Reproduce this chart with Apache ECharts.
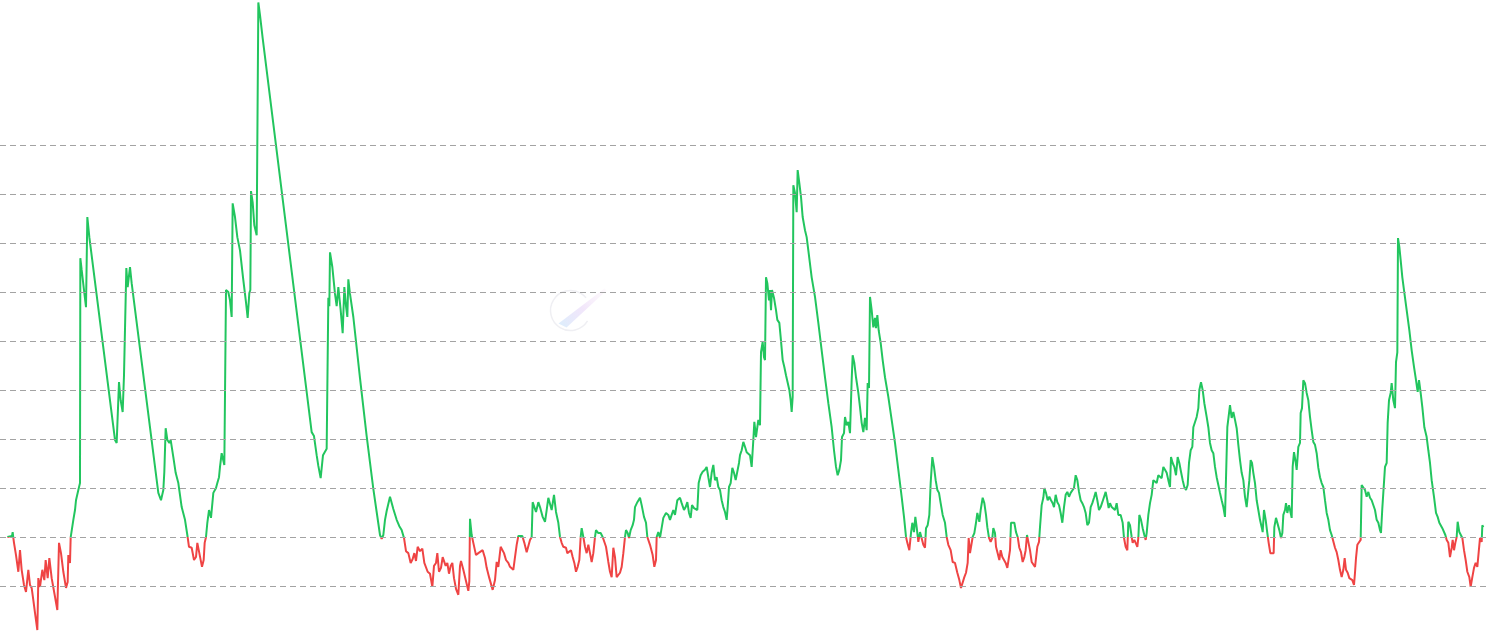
<!DOCTYPE html>
<html>
<head>
<meta charset="utf-8">
<script src="https://cdn.jsdelivr.net/npm/echarts@6/dist/echarts.min.js"></script>
<style>
html,body{margin:0;padding:0;background:#fff;}
#chart{width:1490px;height:633px;}
</style>
</head>
<body>
<div id="chart"></div>
<script>
// [day index, ratio]
const period1 = [[22,1.000],[36,1.002],[38,1.010],[40,0.998],[42,0.988],[48,0.963],[55,0.929],[60,0.973],[65,0.933],[72,0.902],[78,0.888],[85,0.933],[90,0.902],[95,0.896],[100,0.871],[105,0.845],[112,0.810],[115,0.916],[120,0.898],[127,0.933],[133,0.912],[137,0.953],[143,0.916],[148,0.957],[155,0.916],[165,0.878],[172,0.851],[177,0.988],[183,0.967],[190,0.929],[198,0.896],[203,0.908],[205,0.963],[210,0.947],[212,0.999],[218,1.002],[220,1.035],[225,1.055],[228,1.075],[235,1.096],[240,1.110],[241,1.569],[245,1.545],[252,1.504],[258,1.469],[262,1.653],[268,1.612],[345,1.198],[350,1.192],[357,1.316],[362,1.279],[368,1.255],[372,1.330],[377,1.330],[379,1.549],[383,1.510],[390,1.551],[395,1.518],[475,1.090],[483,1.075],[490,1.096],[493,1.133],[497,1.222],[502,1.198],[508,1.192],[512,1.198],[520,1.163],[527,1.131],[535,1.110],[545,1.061],[555,1.035],[562,1.004],[567,0.980],[575,0.978],[582,0.953],[588,0.959],[592,0.988],[598,0.967],[606,0.939],[611,0.953],[614,0.988],[618,1.000],[622,1.029],[627,1.055],[633,1.039],[640,1.090],[648,1.100],[652,1.110],[657,1.122],[660,1.143],[665,1.171],[673,1.147],[678,1.504],[685,1.500],[690,1.483],[695,1.449],[698,1.681],[705,1.653],[712,1.612],[720,1.585],[729,1.530],[738,1.479],[743,1.447],[748,1.498],[751,1.504],[753,1.706],[758,1.683],[763,1.636],[770,1.616],[773,1.612]];

const period2 = [[775,2.091],[780,2.065],[788,2.018],[935,1.214],[942,1.206],[950,1.167],[955,1.145],[962,1.120],[967,1.116],[969,1.167],[975,1.171],[980,1.180],[985,1.488],[988,1.471],[990,1.581],[997,1.551],[1005,1.496],[1010,1.471],[1015,1.510],[1022,1.463],[1028,1.416],[1033,1.510],[1038,1.471],[1042,1.449],[1045,1.526],[1050,1.496],[1060,1.449],[1080,1.324],[1100,1.206],[1120,1.098],[1130,1.051],[1140,1.004],[1145,0.996],[1150,1.004],[1155,1.035],[1160,1.053],[1165,1.057],[1170,1.082],[1175,1.082],[1180,1.057],[1190,1.035],[1198,1.022],[1205,1.014],[1212,0.998],[1218,0.971],[1225,0.967],[1232,0.947],[1238,0.955],[1243,0.967],[1248,0.951],[1253,0.980],[1260,0.971],[1267,0.976],[1273,0.947],[1283,0.929],[1290,0.925],[1297,0.898],[1302,0.941],[1308,0.947],[1312,0.967],[1317,0.929],[1323,0.937],[1328,0.959],[1332,0.963],[1337,0.941],[1342,0.947],[1347,0.925],[1352,0.941],[1357,0.947],[1362,0.916],[1368,0.894],[1375,0.882],[1380,0.941],[1383,0.951],[1390,0.933],[1398,0.910],[1405,0.890],[1408,0.910],[1410,1.037],[1415,1.004],[1420,0.988],[1428,0.963],[1435,0.967],[1440,0.967],[1448,0.973],[1455,0.957],[1460,0.937],[1468,0.916],[1478,0.892],[1485,0.912],[1490,0.949],[1495,0.939],[1502,0.980],[1507,0.984],[1512,0.967],[1518,0.953],[1525,0.947],[1530,0.939],[1535,0.943],[1540,0.933],[1545,0.959],[1550,0.984],[1555,1.002],[1560,1.003],[1567,1.002],[1573,0.988],[1580,0.969],[1585,0.973],[1590,0.994],[1595,1.000]];

const period3 = [[1598,1.071],[1603,1.061],[1608,1.051],[1615,1.071],[1620,1.061],[1628,1.041],[1635,1.031],[1640,1.055],[1645,1.080],[1650,1.082],[1655,1.055],[1662,1.086],[1668,1.051],[1675,1.029],[1680,1.000],[1685,0.988],[1690,0.980],[1698,0.978],[1702,0.967],[1708,0.963],[1713,0.973],[1718,0.959],[1723,0.947],[1728,0.929],[1733,0.939],[1738,0.953],[1742,1.000],[1745,1.018],[1750,1.000],[1755,0.980],[1760,0.967],[1765,0.984],[1770,0.967],[1775,0.949],[1780,0.967],[1785,1.000],[1788,1.014],[1795,1.008],[1802,1.008],[1808,1.000],[1812,1.004],[1818,0.980],[1825,0.949],[1830,0.929],[1835,0.918],[1840,0.978],[1845,0.959],[1850,0.918],[1855,0.918],[1860,0.927],[1865,0.939],[1870,0.967],[1875,1.000],[1878,1.014],[1883,1.008],[1887,0.998],[1892,1.014],[1898,1.024],[1902,1.035],[1905,1.061],[1912,1.071],[1920,1.080],[1925,1.065],[1932,1.041],[1938,1.029],[1942,1.000],[1950,0.984],[1958,0.963],[1963,0.939],[1968,0.953],[1970,1.000],[1975,1.010],[1980,0.998],[1985,1.000],[1990,1.039],[1998,1.049],[2005,1.045],[2010,1.035],[2015,1.045],[2020,1.055],[2025,1.045],[2032,1.075],[2040,1.080],[2045,1.069],[2052,1.055],[2057,1.061],[2062,1.071],[2067,1.049],[2072,1.039],[2076,1.065],[2082,1.059],[2088,1.055],[2092,1.055],[2096,1.110],[2102,1.126],[2108,1.133],[2115,1.137],[2120,1.143],[2125,1.122],[2130,1.102],[2135,1.131],[2140,1.147],[2145,1.116],[2150,1.122],[2155,1.102],[2160,1.096],[2165,1.075],[2170,1.061],[2175,1.051],[2180,1.035],[2183,1.061],[2187,1.102],[2192,1.110],[2197,1.141],[2202,1.131],[2207,1.116],[2212,1.120],[2217,1.151],[2220,1.167],[2225,1.177],[2230,1.194],[2235,1.184],[2240,1.173],[2245,1.171],[2250,1.167],[2255,1.143],[2260,1.198],[2263,1.235],[2268,1.204],[2272,1.224],[2275,1.239],[2280,1.228]];

const period4 = [[2283,1.377],[2288,1.398],[2292,1.367],[2295,1.361],[2298,1.530],[2302,1.518],[2307,1.483],[2310,1.504],[2313,1.463],[2316,1.504],[2322,1.488],[2328,1.463],[2332,1.443],[2338,1.437],[2342,1.408],[2348,1.361],[2353,1.347],[2358,1.330],[2363,1.326],[2368,1.300],[2372,1.279],[2375,1.255],[2378,1.286],[2380,1.718],[2385,1.702],[2390,1.663],[2393,1.749],[2398,1.722],[2403,1.694],[2408,1.653],[2415,1.626],[2420,1.612],[2425,1.585],[2435,1.530],[2445,1.490],[2455,1.437],[2465,1.381],[2475,1.326],[2485,1.273],[2495,1.224],[2502,1.177],[2508,1.143],[2513,1.126],[2518,1.137],[2523,1.157],[2526,1.204],[2532,1.212],[2535,1.245],[2540,1.228],[2545,1.235],[2550,1.212],[2553,1.212],[2555,1.320],[2558,1.371],[2563,1.355],[2568,1.326],[2575,1.294],[2580,1.265],[2585,1.233],[2590,1.214],[2595,1.243],[2600,1.218],[2603,1.314],[2607,1.304],[2610,1.490],[2615,1.463],[2620,1.428],[2625,1.447],[2628,1.426],[2632,1.453],[2636,1.422],[2642,1.396],[2648,1.361],[2655,1.326],[2665,1.286],[2675,1.239],[2685,1.192],[2695,1.137],[2705,1.082],[2712,1.041],[2718,1.000],[2722,0.988],[2728,0.973],[2733,1.008],[2737,1.029],[2742,1.010],[2746,1.041],[2750,1.020],[2755,0.990],[2760,1.010],[2765,1.008],[2770,0.984],[2775,0.978],[2778,1.018],[2783,1.024],[2788,1.045],[2792,1.110],[2797,1.163],[2802,1.143],[2807,1.116],[2812,1.096],[2817,1.090],[2822,1.069],[2828,1.045],[2835,1.029],[2840,1.000],[2845,0.984],[2852,0.973],[2858,0.949],[2865,0.947],[2872,0.927],[2878,0.912],[2883,0.896],[2888,0.898],[2893,0.918],[2898,0.927],[2903,0.947],[2906,0.998],[2910,0.967],[2915,0.967],[2918,1.000],[2923,1.008],[2928,1.029],[2932,1.049],[2938,1.031],[2942,1.055],[2948,1.080],[2953,1.069],[2958,1.045],[2962,1.020],[2967,0.998],[2972,0.990],[2977,0.998],[2980,1.018],[2985,1.008],[2988,0.980],[2993,0.967],[2998,0.953],[3002,0.973],[3007,0.959],[3012,0.953],[3017,0.947],[3022,0.937],[3027,0.933],[3030,0.973],[3033,1.029],[3038,1.031],[3043,1.029],[3048,1.010],[3053,1.000],[3058,0.978],[3063,0.969],[3068,0.949],[3073,0.959],[3077,0.973],[3081,1.004],[3085,0.990],[3090,0.973],[3095,0.949],[3100,0.947],[3105,0.939],[3108,0.937],[3112,0.980],[3117,0.990],[3120,1.020]];

const period5 = [[3125,1.065],[3130,1.080],[3133,1.100],[3138,1.090],[3143,1.075],[3148,1.082],[3153,1.075],[3158,1.069],[3162,1.061],[3167,1.086],[3172,1.071],[3177,1.065],[3182,1.049],[3187,1.029],[3192,1.061],[3197,1.086],[3202,1.092],[3207,1.082],[3212,1.090],[3217,1.092],[3222,1.100],[3227,1.126],[3232,1.116],[3237,1.092],[3242,1.075],[3247,1.069],[3252,1.061],[3257,1.049],[3262,1.024],[3267,1.029],[3272,1.061],[3277,1.069],[3282,1.080],[3287,1.092],[3292,1.075],[3297,1.055],[3302,1.061],[3307,1.071],[3312,1.069],[3317,1.092],[3322,1.075],[3326,1.059],[3330,1.069],[3335,1.061],[3340,1.065],[3345,1.055],[3350,1.069],[3355,1.045],[3362,1.045],[3368,1.029],[3372,0.998],[3377,0.980],[3382,0.973],[3385,1.031],[3390,1.024],[3395,1.000],[3398,0.988],[3403,0.994],[3407,0.988],[3412,0.980],[3415,0.998],[3418,1.045],[3423,1.035],[3428,1.018],[3433,1.004],[3437,0.994],[3440,1.008],[3445,1.045],[3450,1.069],[3455,1.086],[3460,1.116],[3465,1.120],[3470,1.110],[3475,1.126],[3480,1.126],[3485,1.120],[3490,1.143],[3495,1.137],[3500,1.131],[3505,1.116],[3510,1.102],[3513,1.163],[3518,1.151],[3523,1.143],[3528,1.126],[3533,1.163],[3538,1.151],[3543,1.133],[3548,1.116],[3553,1.102],[3558,1.096],[3563,1.106],[3567,1.151],[3572,1.177],[3577,1.184],[3580,1.224],[3585,1.224],[3590,1.245],[3595,1.263],[3598,1.300],[3603,1.316],[3608,1.300],[3613,1.273],[3620,1.245],[3625,1.224],[3630,1.192],[3635,1.177],[3640,1.171],[3645,1.143],[3650,1.122],[3655,1.106],[3660,1.090],[3665,1.075],[3670,1.061],[3675,1.041],[3678,1.039],[3682,1.224],[3687,1.228],[3690,1.269],[3695,1.243],[3700,1.255],[3705,1.239],[3710,1.222],[3715,1.188],[3720,1.157],[3725,1.131],[3730,1.116],[3735,1.082],[3740,1.061],[3745,1.059],[3748,1.116],[3752,1.157],[3756,1.151],[3760,1.131],[3765,1.110],[3770,1.075],[3775,1.055],[3780,1.035],[3785,1.020],[3788,1.010],[3792,1.055],[3797,1.035],[3802,1.008],[3806,0.988],[3811,0.967],[3817,0.963],[3821,0.967],[3823,1.020],[3828,1.039],[3833,1.035],[3838,1.014],[3843,0.998],[3847,1.008],[3850,1.045],[3855,1.055],[3858,1.069],[3862,1.049],[3867,1.065],[3872,1.049],[3875,1.039]];

const period6 = [[3878,1.143],[3882,1.173],[3887,1.153],[3890,1.137],[3895,1.184],[3900,1.192],[3902,1.253],[3906,1.263],[3910,1.320],[3915,1.314],[3920,1.294],[3925,1.279],[3930,1.245],[3935,1.218],[3940,1.194],[3945,1.188],[3950,1.171],[3955,1.141],[3960,1.122],[3965,1.110],[3970,1.102],[3975,1.075],[3980,1.049],[3985,1.035],[3990,1.014],[3995,1.004],[4000,1.000],[4005,0.978],[4010,0.969],[4015,0.953],[4020,0.933],[4025,0.918],[4030,0.933],[4034,0.957],[4038,0.933],[4043,0.927],[4048,0.916],[4052,0.918],[4057,0.912],[4062,0.902],[4065,0.927],[4068,0.957],[4072,0.984],[4078,0.984],[4082,0.994],[4085,1.106],[4090,1.106],[4095,1.096],[4100,1.082],[4105,1.092],[4110,1.080],[4115,1.075],[4120,1.071],[4125,1.055],[4130,1.035],[4135,1.029],[4140,1.014],[4143,1.008],[4147,1.059],[4152,1.061],[4155,1.143],[4160,1.151],[4163,1.233],[4167,1.279],[4172,1.294],[4175,1.314],[4180,1.279],[4185,1.263],[4188,1.357],[4192,1.377],[4194,1.610],[4198,1.592],[4202,1.565],[4207,1.530],[4212,1.504],[4220,1.463],[4228,1.422],[4235,1.381],[4242,1.347],[4248,1.320],[4253,1.296],[4257,1.320],[4262,1.294],[4267,1.265],[4273,1.224],[4280,1.204],[4285,1.177],[4290,1.151],[4295,1.116],[4302,1.082],[4308,1.049],[4313,1.041],[4318,1.029],[4322,1.031],[4327,1.018],[4332,1.014],[4336,1.004],[4340,0.994],[4345,0.988],[4350,0.959],[4355,0.978],[4358,0.994],[4362,0.973],[4366,0.988],[4370,1.000],[4373,1.031],[4378,1.010],[4383,1.008],[4387,0.998],[4392,0.973],[4397,0.953],[4402,0.929],[4408,0.918],[4412,0.898],[4417,0.918],[4422,0.937],[4427,0.947],[4432,0.939],[4437,0.943],[4440,0.998],[4445,0.990],[4447,1.024],[4450,1.020]];

const threshold = 1.0;
const gridLevels = [0.9, 1.0, 1.1, 1.2, 1.3, 1.4, 1.5, 1.6, 1.7, 1.8];
const colorAbove = '#22c55e';
const colorBelow = '#ef4444';

const seriesData = [].concat(period1, period2, period3, period4, period5, period6);

const chart = echarts.init(document.getElementById('chart'), null, {renderer: 'canvas'});
chart.setOption({
  animation: false,
  backgroundColor: '#ffffff',
  grid: {left: 0, right: 4, top: 0, bottom: 0, containLabel: false},
  xAxis: {
    type: 'value', min: 0, max: 4458,
    show: false, splitLine: {show: false}
  },
  yAxis: {
    type: 'value', min: 0.804, max: 2.096,
    show: false, splitLine: {show: false}
  },
  visualMap: {
    type: 'piecewise', show: false, seriesIndex: 1, dimension: 1,
    pieces: [
      {gte: 0, lte: threshold, color: colorBelow},
      {gt: threshold, lte: 10, color: colorAbove}
    ],
    outOfRange: {color: colorAbove}
  },
  graphic: [
    {
      type: 'group', left: 548, top: 288, z: 0, silent: true,
      children: [
        {
          type: 'arc',
          shape: {cx: 24, cy: 27, r: 20, startAngle: 0.55, endAngle: 5.6, clockwise: true},
          style: {stroke: '#efeff3', lineWidth: 1.5, fill: null}
        },
        {
          type: 'polygon',
          shape: {points: [[12, 40], [58, 5], [60, 7], [20, 44]]},
          style: {
            fill: new echarts.graphic.LinearGradient(0, 1, 1, 0, [
              {offset: 0, color: 'rgba(190,225,250,0.55)'},
              {offset: 0.5, color: 'rgba(225,200,245,0.45)'},
              {offset: 1, color: 'rgba(245,220,240,0.15)'}
            ])
          }
        }
      ]
    }
  ],
  series: [
    {
      type: 'line', z: 1, data: [], silent: true,
      markLine: {
        silent: true, symbol: ['none', 'none'], animation: false,
        label: {show: false},
        lineStyle: {color: '#a3a3a3', type: [6, 4], width: 1},
        data: gridLevels.map(v => ({yAxis: v}))
      }
    },
    {
      type: 'line', z: 3, data: seriesData,
      showSymbol: false, symbol: 'none', smooth: false,
      lineStyle: {width: 2},
      emphasis: {disabled: true}
    }
  ]
});
</script>
</body>
</html>
